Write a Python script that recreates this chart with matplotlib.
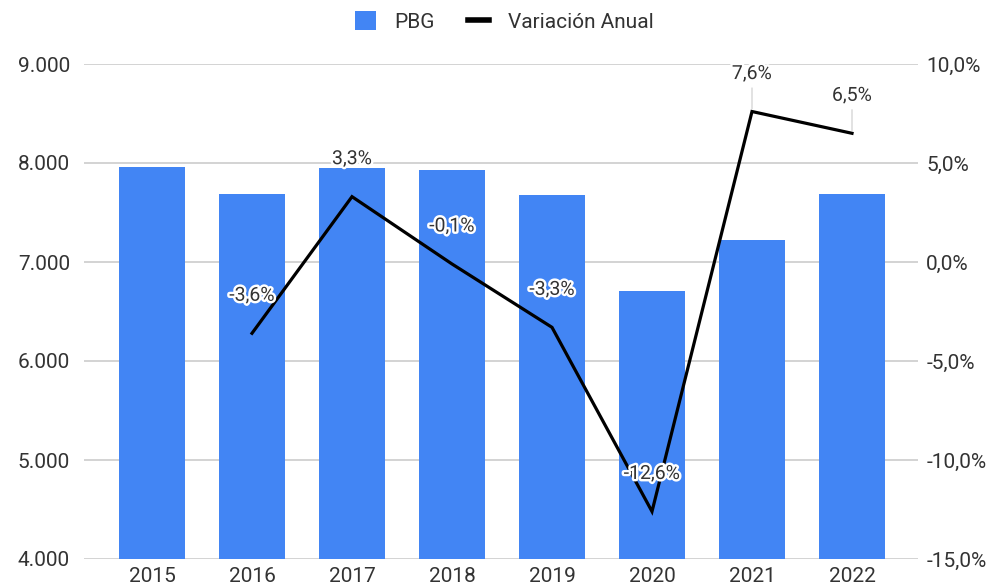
import matplotlib
matplotlib.use("Agg")
import matplotlib.pyplot as plt
import matplotlib.patheffects as pe
from matplotlib.patches import Patch
from matplotlib.lines import Line2D
from matplotlib.ticker import FuncFormatter

years = ["2015", "2016", "2017", "2018", "2019", "2020", "2021", "2022"]
pbg = [7960, 7690, 7950, 7930, 7680, 6710, 7220, 7690]
var_years = ["2016", "2017", "2018", "2019", "2020", "2021", "2022"]
variacion = [-3.6, 3.3, -0.1, -3.3, -12.6, 7.6, 6.5]
left_ticks = [4000, 5000, 6000, 7000, 8000, 9000]
right_ticks = [-15, -10, -5, 0, 5, 10]

plt.rcParams['font.family'] = ['Roboto', 'DejaVu Sans']
txt_color = '#333333'
blue = '#4285F4'

fig = plt.figure(figsize=(9.93, 5.87), dpi=100)
ax = fig.add_axes([84/993, 1-559/587, (918-84)/993, (559-64)/587])
ax2 = ax.twinx()

x = list(range(len(years)))
ax.bar(x, [v - 4000 for v in pbg], bottom=4000, width=0.66, color=blue, zorder=2)
ax.set_ylim(4000, 9000)
ax.set_xlim(-0.68, 7.66)
ax.set_yticks(left_ticks)
ax.yaxis.set_major_formatter(FuncFormatter(lambda v, p: f"{int(v):,}".replace(",", ".")))
ax.set_xticks(x)
ax.set_xticklabels(years)
ax.grid(axis='y', color='#cccccc', linewidth=1.2, zorder=0)
ax.set_axisbelow(True)
for s in ax.spines.values():
    s.set_visible(False)
for s in ax2.spines.values():
    s.set_visible(False)
ax.tick_params(axis='both', length=0, labelsize=15, colors=txt_color)
ax.tick_params(axis='y', pad=10)
ax.tick_params(axis='x', pad=6)

xv = [years.index(y) for y in var_years]
ax2.plot(xv, variacion, color='black', linewidth=2.3, zorder=3, solid_joinstyle='miter')
ax2.set_ylim(-15, 10)
ax2.set_yticks(right_ticks)
ax2.yaxis.set_major_formatter(FuncFormatter(lambda v, p: f"{v:.1f}%".replace(".", ",")))
ax2.tick_params(axis='y', length=0, labelsize=15, colors=txt_color, pad=6)

for xi, v in zip(xv, variacion):
    lbl = f"{v:.1f}%".replace(".", ",")
    t = ax2.annotate(lbl, (xi, v), xytext=(0, 27), textcoords='offset points',
                     ha='center', va='center', fontsize=14, color=txt_color, zorder=5)
    t.set_path_effects([pe.withStroke(linewidth=3.5, foreground='white')])
    if v > 5:
        ax2.annotate("", (xi, v), xytext=(0, 17), textcoords='offset points',
                     arrowprops=dict(arrowstyle='-', color='#cccccc', lw=0.8, shrinkA=0, shrinkB=2))

handles = [Patch(facecolor=blue, edgecolor='none'),
           Line2D([0], [0], color='black', linewidth=4)]
fig.legend(handles, ["PBG", "Variación Anual"], loc='center', bbox_to_anchor=(0.508, 0.963),
           ncol=2, frameon=False, fontsize=15, handlelength=1.0, handleheight=1.0,
           columnspacing=1.6, handletextpad=0.9, labelcolor=txt_color)

fig.savefig("out.png", dpi=100)
